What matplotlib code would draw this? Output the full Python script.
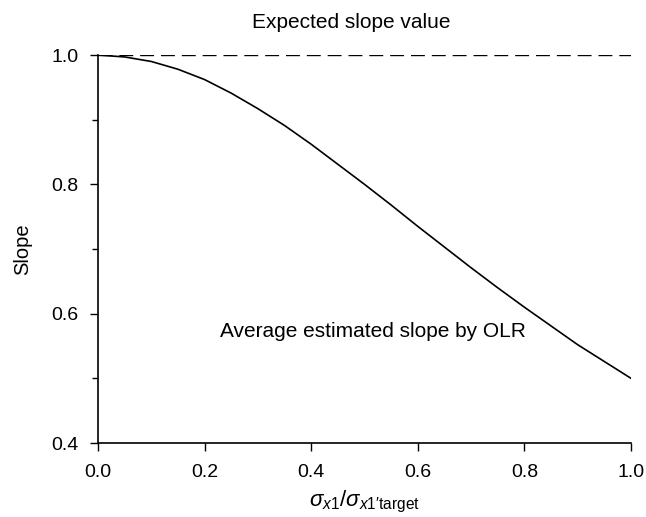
import numpy as np
import matplotlib.pyplot as plt

# values
ratio = [0.0, 0.05, 0.1, 0.15, 0.2, 0.25, 0.3, 0.35, 0.4, 0.45, 0.5,
         0.55, 0.6, 0.65, 0.7, 0.75, 0.8, 0.85, 0.9, 0.95, 1.0]
avg_slope = [1.0, 0.997, 0.990, 0.978, 0.962, 0.941, 0.917, 0.891, 0.862, 0.831, 0.800,
             0.768, 0.735, 0.703, 0.671, 0.640, 0.610, 0.581, 0.552, 0.526, 0.500]
expected_slope = 1.0

xticks = [0.0, 0.2, 0.4, 0.6, 0.8, 1.0]
yticks = [0.4, 0.6, 0.8, 1.0]

plt.rcParams['font.family'] = ['Liberation Sans', 'DejaVu Sans']
plt.rcParams['mathtext.fontset'] = 'custom'
plt.rcParams['mathtext.rm'] = 'Liberation Sans'
plt.rcParams['mathtext.it'] = 'Liberation Sans:italic'
plt.rcParams['mathtext.bf'] = 'Liberation Sans:bold'

fig = plt.figure(figsize=(6.46, 5.17), dpi=100)
ax = fig.add_axes([0.1517, 0.1431, 0.8251, 0.7505])

ax.plot(ratio, avg_slope, color='black', lw=1.2)
ax.axhline(expected_slope, color='black', lw=1.0, linestyle=(0, (10, 5)))

ax.set_xlim(0, 1.0)
ax.set_ylim(0.4, 1.0)
ax.set_xticks(xticks)
ax.set_yticks(yticks)
ax.set_yticks([0.5, 0.7, 0.9], minor=True)
ax.xaxis.set_major_formatter(plt.FormatStrFormatter('%.1f'))
ax.yaxis.set_major_formatter(plt.FormatStrFormatter('%.1f'))

for side in ['top', 'right']:
    ax.spines[side].set_visible(False)
for side in ['left', 'bottom']:
    ax.spines[side].set_linewidth(1.2)

ax.tick_params(axis='both', which='major', direction='out', length=6, width=1.0, labelsize=14)
ax.tick_params(axis='x', which='major', pad=9)
ax.tick_params(axis='y', which='major', pad=8)
ax.tick_params(axis='y', which='minor', direction='out', length=4, width=1.0)

ax.set_xlabel(r'$\sigma_{x\mathrm{1}}/\sigma_{x\mathrm{1}\prime\mathrm{target}}$', fontsize=16, labelpad=6)
ax.set_ylabel('Slope', fontsize=14.5, labelpad=14)

ax.text(0.475, 1.051, 'Expected slope value', ha='center', va='center', fontsize=15, clip_on=False)
ax.text(0.516, 0.573, 'Average estimated slope by OLR', ha='center', va='center', fontsize=15)

fig.savefig('out.png', dpi=100)
